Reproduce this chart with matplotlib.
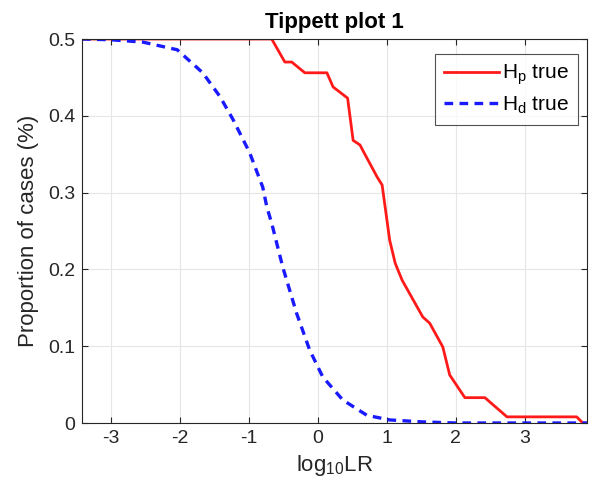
import numpy as np
import matplotlib
matplotlib.use("Agg")
from matplotlib import pyplot as plt

# curve
hp_x = [-3.42, -0.67, -0.48, -0.38, -0.19, 0.13, 0.22, 0.43, 0.51, 0.61, 0.65, 0.86, 0.93,
        1.04, 1.12, 1.22, 1.52, 1.62, 1.81, 1.91, 2.13, 2.42, 2.74, 3.75, 3.84, 3.9]
hp_y = [0.5, 0.5, 0.470, 0.470, 0.456, 0.456, 0.4375, 0.423, 0.368, 0.362, 0.355, 0.32, 0.31,
        0.238, 0.208, 0.186, 0.138, 0.130, 0.099, 0.0625, 0.033, 0.033, 0.008, 0.008, 0.0, 0.0]

hd_x = [-3.42, -3.0, -2.54, -2.04, -1.67, -1.42, -1.23, -0.99, -0.80, -0.74, -0.67, -0.51,
        -0.31, -0.12, 0.07, 0.36, 0.71, 1.04, 1.5, 2.0, 3.9]
hd_y = [0.5, 0.499, 0.496, 0.486, 0.456, 0.425, 0.395, 0.352, 0.307, 0.281, 0.26, 0.203,
        0.143, 0.095, 0.06, 0.030, 0.010, 0.004, 0.0015, 0.0, 0.0]

xticks = [-3, -2, -1, 0, 1, 2, 3]
yticks = [0, 0.1, 0.2, 0.3, 0.4, 0.5]
ytick_labels = ["0", "0.1", "0.2", "0.3", "0.4", "0.5"]

plt.rcParams['font.family'] = ['Liberation Sans', 'DejaVu Sans']
plt.rcParams['mathtext.default'] = 'regular'
plt.rcParams['axes.unicode_minus'] = False

fig = plt.figure(figsize=(5.89, 4.93), dpi=100)
ax = fig.add_axes([82/589, 1 - 423/493, (587 - 82)/589, (423 - 39)/493])

ax.plot(hp_x, hp_y, color='#ff1a1a', lw=2.0, label=r'H$_p$ true')
ax.plot(hd_x, hd_y, color='#1a1aff', lw=2.4, ls=(0, (2.6, 1.9)), label=r'H$_d$ true')

ax.set_xlim(-3.42, 3.9)
ax.set_ylim(0, 0.5)
ax.set_xticks(xticks)
ax.set_yticks(yticks)
ax.set_yticklabels(ytick_labels)
ax.grid(True, color='#e6e6e6', lw=0.8)
ax.set_axisbelow(True)
ax.tick_params(direction='in', top=True, right=True, labelsize=14, colors='#262626',
               length=4, pad=5)
for s in ax.spines.values():
    s.set_color('#262626')

ax.set_title('Tippett plot 1', fontsize=16, fontweight='bold', pad=8)
ax.set_xlabel(r'log$_{10}$LR', fontsize=16, color='#262626', labelpad=4)
ax.set_ylabel('Proportion of cases (%)', fontsize=16, color='#262626', labelpad=6)

leg = ax.legend(loc='upper right', fontsize=15, fancybox=False, edgecolor='#262626',
                handlelength=2.6, handletextpad=0.15, borderpad=0.45, labelspacing=0.35,
                borderaxespad=0, bbox_to_anchor=(0.982, 0.962))
leg.get_frame().set_linewidth(0.8)

fig.savefig('out.png', dpi=100)
